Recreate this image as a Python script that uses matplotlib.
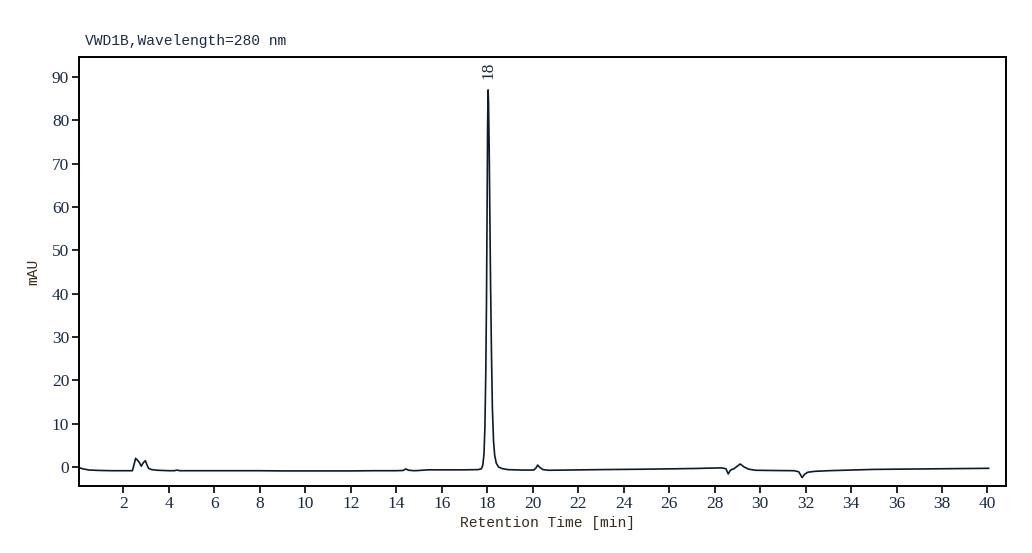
import matplotlib.pyplot as plt
import numpy as np

# Chromatogramm-Punkte (Zeit in min, Signal in mAU)
zeit = [0.05, 0.2, 0.5, 1.0, 1.5, 2.0, 2.40, 2.47, 2.54, 2.62, 2.70, 2.79, 2.88, 2.97,
        3.05, 3.11, 3.25, 3.5, 4.0, 4.25, 4.36, 4.47, 5.0, 6.0, 7.0, 8.0, 9.0, 10.0,
        11.0, 12.0, 13.0, 14.0, 14.3, 14.42, 14.55, 14.8, 15.0, 15.4, 16.0, 17.0,
        17.60, 17.75, 17.81, 17.86, 17.90, 17.94, 17.97, 18.00, 18.02, 18.04, 18.06,
        18.09, 18.12, 18.15, 18.19, 18.23, 18.28, 18.33, 18.40, 18.50, 18.65, 18.9,
        19.5, 20.05, 20.15, 20.22, 20.32, 20.45, 20.7, 21.5, 23.0, 25.0, 27.0, 28.3,
        28.50, 28.60, 28.70, 28.85, 29.0, 29.13, 29.3, 29.5, 29.8, 30.5, 31.5, 31.70,
        31.85, 31.95, 32.10, 32.4, 33.0, 34.0, 35.0, 36.0, 38.0, 40.05]
signal = [-0.1, -0.4, -0.7, -0.8, -0.85, -0.85, -0.85, 0.5, 2.0, 1.6, 1.1, 0.2, 1.0, 1.45,
          0.4, -0.3, -0.6, -0.75, -0.85, -0.85, -0.7, -0.85, -0.85, -0.85, -0.85, -0.85,
          -0.9, -0.9, -0.9, -0.9, -0.85, -0.85, -0.8, -0.45, -0.75, -0.85, -0.8, -0.65,
          -0.65, -0.65, -0.6, -0.4, 0.5, 3.0, 9.0, 22.0, 38.0, 62.0, 79.0, 87.0, 84.0,
          73.0, 57.0, 42.0, 26.0, 13.5, 6.0, 2.7, 0.9, 0.0, -0.35, -0.6,
          -0.7, -0.7, -0.2, 0.45, -0.1, -0.6, -0.75, -0.7, -0.6, -0.5, -0.35, -0.2,
          -0.4, -1.6, -0.7, -0.4, 0.2, 0.7, 0.0, -0.5, -0.75, -0.8, -0.85, -1.1,
          -2.45, -1.7, -1.2, -1.0, -0.85, -0.7, -0.55, -0.5, -0.4, -0.3]

peak_zeit = 18.04
peak_label = "18"

mono = 'Liberation Mono'
serif = 'Liberation Serif'

fig = plt.figure(figsize=(10.32, 5.53), dpi=100)
ax = fig.add_axes([0.0765, 0.121, 0.898, 0.776])

ax.plot(zeit, signal, color='#0b1b2c', lw=1.2)

ax.set_xlim(0.05, 40.8)
ax.set_ylim(-4.4, 94.6)
ax.set_xticks(np.arange(2, 41, 2))
ax.set_yticks(np.arange(0, 91, 10))
for lab in ax.get_xticklabels() + ax.get_yticklabels():
    lab.set_fontfamily(serif)
    lab.set_fontsize(12.5)
    lab.set_color('#1a2a44')
ax.tick_params(direction='out', length=5, width=1.2, pad=2)
for s in ax.spines.values():
    s.set_linewidth(1.4)

ax.set_xlabel('Retention Time [min]', fontfamily=mono, fontsize=10.5,
              color='#3a2a1a', labelpad=2)
ax.xaxis.set_label_coords(0.506, -0.07)
ax.set_ylabel('mAU', fontfamily=mono, fontsize=10.5, color='#3a2a1a', labelpad=8)
ax.text(0.006, 1.02, 'VWD1B,Wavelength=280 nm', transform=ax.transAxes,
        fontfamily=mono, fontsize=10.5, color='#1a2a44', va='bottom', ha='left')

ax.annotate(peak_label, xy=(peak_zeit, 87.0), xytext=(0, 8), textcoords='offset points',
            rotation=90, ha='center', va='bottom', fontfamily=serif, fontsize=12.5,
            color='#1a2a44')

fig.savefig('out.png', dpi=100)
